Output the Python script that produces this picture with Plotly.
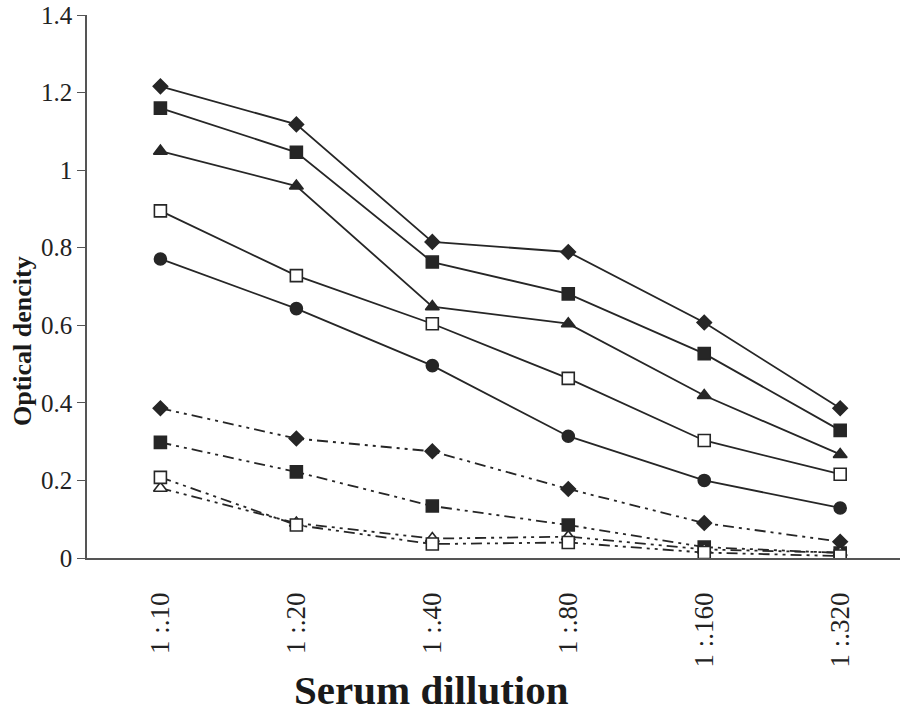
import plotly.graph_objects as go

dilutions = ["1 :.10", "1 :.20", "1 :.40", "1 :.80", "1 :.160", "1 :.320"]

# Solid-line series
pos_diamond = [1.216, 1.118, 0.815, 0.789, 0.607, 0.386]
pos_square = [1.160, 1.046, 0.763, 0.681, 0.527, 0.329]
pos_triangle = [1.049, 0.959, 0.648, 0.604, 0.419, 0.267]
pos_open_square = [0.895, 0.728, 0.604, 0.463, 0.303, 0.216]
pos_circle = [0.771, 0.643, 0.496, 0.314, 0.200, 0.129]

# Dash-dot series
neg_diamond = [0.386, 0.308, 0.275, 0.178, 0.090, 0.042]
neg_square = [0.298, 0.222, 0.134, 0.085, 0.028, 0.013]
neg_open_square = [0.208, 0.085, 0.036, 0.040, 0.014, 0.005]
neg_open_triangle = [0.180, 0.090, 0.050, 0.055, 0.022, 0.014]

INK = "#262626"
DASH = "11px,5px,3px,5px,3px,5px"

series = [
    (pos_diamond, "diamond", INK, 11, "solid"),
    (pos_square, "square", INK, 12, "solid"),
    (pos_triangle, "triangle-up", INK, 12, "solid"),
    (pos_open_square, "square", "white", 12, "solid"),
    (pos_circle, "circle", INK, 12, "solid"),
    (neg_diamond, "diamond", INK, 11, DASH),
    (neg_square, "square", INK, 12, DASH),
    (neg_open_triangle, "triangle-up", "white", 12, DASH),
    (neg_open_square, "square", "white", 12, DASH),
]

fig = go.Figure()
for vals, sym, fill, size, dash in series:
    fig.add_trace(go.Scatter(
        x=list(range(len(dilutions))), y=vals, mode="lines+markers",
        line=dict(color=INK, width=1.8, dash=dash),
        marker=dict(symbol=sym, size=size, color=fill,
                    line=dict(color=INK, width=1.6)),
        showlegend=False,
    ))

# plot area in page px (body margin removed below)
PL, PR, PT, PB = 87, 900, 15, 558
PW, PH = PR - PL, PB - PT

fig.update_layout(
    width=900, height=719,
    margin=dict(l=PL, r=900 - PR, t=PT, b=719 - PB, autoexpand=False),
    paper_bgcolor="white", plot_bgcolor="white",
    font=dict(family="Liberation Serif", color="#222"),
    xaxis=dict(
        tickmode="array", tickvals=list(range(len(dilutions))), ticktext=dilutions,
        range=[-0.54, 5.44], tickangle=-90, ticks="",
        ticklabelstandoff=22, ticklabeloverflow="allow",
        showgrid=False, zeroline=False, showline=True,
        linecolor="#555", linewidth=1.5,
        tickfont=dict(family="Liberation Serif", size=27, color="#222"),
    ),
    yaxis=dict(
        range=[0, 1.4], tickvals=[0, 0.2, 0.4, 0.6, 0.8, 1.0, 1.2, 1.4],
        ticktext=["0", "0.2", "0.4", "0.6", "0.8", "1", "1.2", "1.4"],
        ticks="outside", ticklen=8, tickcolor="#555", tickwidth=1.2,
        ticklabeloverflow="allow",
        showgrid=False, zeroline=False, showline=True,
        linecolor="#555", linewidth=1.5,
        tickfont=dict(family="Liberation Serif", size=25, color="#222"),
    ),
    annotations=[
        dict(text="<b>Serum dillution</b>", xref="paper", yref="paper",
             x=(431 - PL) / PW, y=-(690 - PB) / PH, xanchor="center", yanchor="middle",
             showarrow=False, font=dict(family="Liberation Serif", size=41, color="#1a1a1a")),
        dict(text="<b>Optical dencity</b>", xref="paper", yref="paper",
             x=(22 - PL) / PW, y=(PB - 341) / PH, xanchor="center", yanchor="middle",
             textangle=-90, showarrow=False,
             font=dict(family="Liberation Serif", size=26, color="#1a1a1a")),
    ],
)

fig.write_html("out.html", config={"displayModeBar": False},
               post_script="document.body.style.margin='0px';")
